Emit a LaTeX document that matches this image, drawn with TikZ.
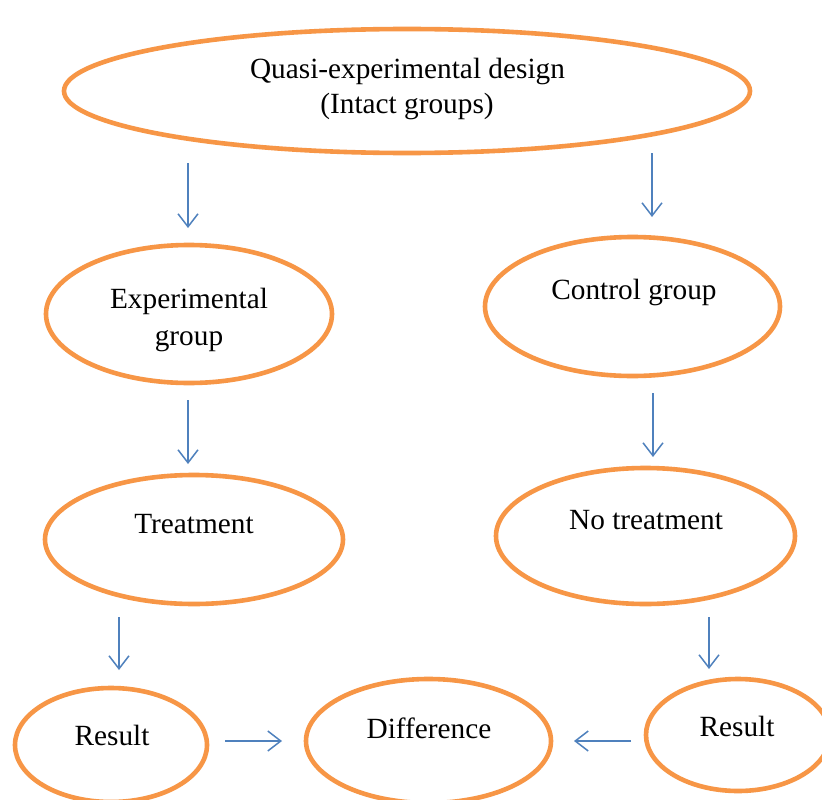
\documentclass[tikz,border=0pt]{standalone}
\usepackage{fontspec}
\setmainfont{Liberation Serif}
\usetikzlibrary{shapes.geometric,arrows.meta}
\definecolor{ovalorange}{HTML}{F79646}
\definecolor{arrowblue}{HTML}{4F81BD}
\tikzset{
  oval/.style={ellipse, draw=ovalorange, line width=4.6pt, inner sep=0pt},
  lbl/.style={anchor=base, inner sep=0pt, font=\fontsize{29.3}{34}\selectfont},
  flow/.style={draw=arrowblue, line width=1.5pt, -{Straight Barb[length=13pt,width=20pt]}}
}
\begin{document}
\begin{tikzpicture}[x=1pt,y=-1pt]
\useasboundingbox (0,0) rectangle (822,800);
\clip (0,0) rectangle (822,800);
\fill[white] (0,0) rectangle (822,800);
% ovals
\node[oval, minimum width=686pt, minimum height=124pt] (top) at (407,91) {};
\node[oval, minimum width=286pt, minimum height=138pt] (exp) at (189,314) {};
\node[oval, minimum width=295pt, minimum height=139pt] (ctrl) at (632.5,306.5) {};
\node[oval, minimum width=298pt, minimum height=129pt] (treat) at (194,539.5) {};
\node[oval, minimum width=299pt, minimum height=136pt] (notreat) at (645.5,536) {};
\node[oval, minimum width=192pt, minimum height=114pt] (resL) at (111,745) {};
\node[oval, minimum width=245pt, minimum height=124pt] (diff) at (428.5,741) {};
\node[oval, minimum width=184pt, minimum height=112pt] (resR) at (738,735) {};
% texts
\node[lbl] (t1) at (407.5,78) {Quasi-experimental design};
\node[lbl] (t2) at (407,113) {(Intact groups)};
\node[lbl] (t3) at (189,308) {Experimental};
\node[lbl] (t4) at (189,345) {group};
\node[lbl] (t5) at (634,299) {Control group};
\node[lbl] (t6) at (194,533) {Treatment};
\node[lbl] (t7) at (646,529) {No treatment};
\node[lbl] (t8) at (112,745) {Result};
\node[lbl] (t9) at (429,738) {Difference};
\node[lbl] (t10) at (737,736) {Result};
% arrow end points
\coordinate (a1s) at (188,163); \coordinate (a1e) at (188,228);
\coordinate (a2s) at (652,153); \coordinate (a2e) at (652,217);
\coordinate (a3s) at (188,400); \coordinate (a3e) at (188,464);
\coordinate (a4s) at (653,393); \coordinate (a4e) at (653,457);
\coordinate (a5s) at (119,617); \coordinate (a5e) at (119,670);
\coordinate (a6s) at (709,617); \coordinate (a6e) at (709,669);
\coordinate (a7s) at (225,741); \coordinate (a7e) at (282,741);
\coordinate (a8s) at (631,741); \coordinate (a8e) at (574,741);
\draw[flow] (a1s) -- (a1e);
\draw[flow] (a2s) -- (a2e);
\draw[flow] (a3s) -- (a3e);
\draw[flow] (a4s) -- (a4e);
\draw[flow] (a5s) -- (a5e);
\draw[flow] (a6s) -- (a6e);
\draw[flow] (a7s) -- (a7e);
\draw[flow] (a8s) -- (a8e);
\end{tikzpicture}
\end{document}
